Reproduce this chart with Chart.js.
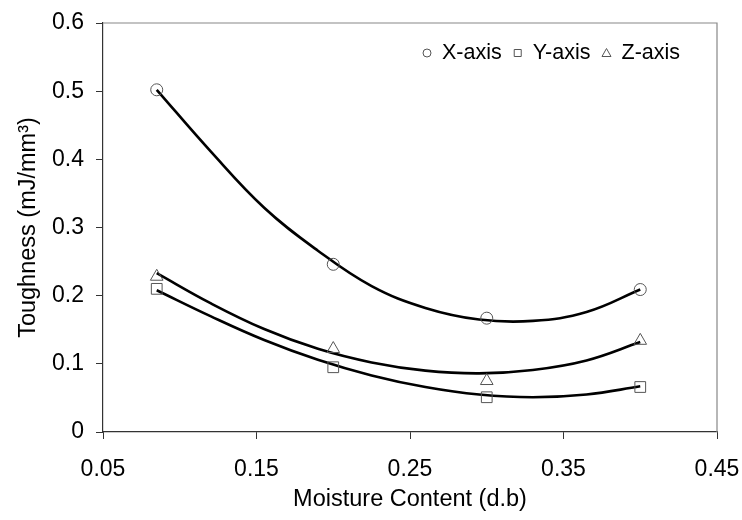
<!DOCTYPE html>
<html>
<head>
<meta charset="utf-8">
<script src="https://cdn.jsdelivr.net/npm/chart.js@4.4.1/dist/chart.umd.min.js"></script>
<style>
  html, body { margin: 0; padding: 0; background: #fff; }
  #wrap { width: 742px; height: 520px; }
</style>
</head>
<body>
<div id="wrap"><canvas id="toughness" width="742" height="520"></canvas></div>
<script>
// measured points
const moisture = [0.085, 0.2, 0.3, 0.4];
const xAxisVals = [0.502, 0.246, 0.167, 0.209];
const yAxisVals = [0.210, 0.095, 0.051, 0.066];
const zAxisVals = [0.228, 0.122, 0.075, 0.134];

// trendlines
const trendX = [0.085, 0.12, 0.155, 0.19, 0.225, 0.26, 0.295, 0.33, 0.365, 0.40];
const trendXAxis = [0.502, 0.412, 0.329, 0.266, 0.214, 0.182, 0.165, 0.163, 0.176, 0.209];
const trendYAxis = [0.208, 0.170, 0.135, 0.106, 0.083, 0.066, 0.055, 0.051, 0.055, 0.067];
const trendZAxis = [0.233, 0.189, 0.151, 0.122, 0.102, 0.090, 0.086, 0.091, 0.105, 0.132];

const seriesLabels = ['X-axis', 'Y-axis', 'Z-axis'];
const xTicks = [0.05, 0.15, 0.25, 0.35, 0.45];
const xTickLabels = ['0.05', '0.15', '0.25', '0.35', '0.45'];
const yTicks = [0, 0.1, 0.2, 0.3, 0.4, 0.5, 0.6];
const yTickLabels = ['0', '0.1', '0.2', '0.3', '0.4', '0.5', '0.6'];

const FONT = 'Liberation Sans, Arial, sans-serif';
const markColor = '#555';

function pts(xs, ys) { return xs.map((x, i) => ({x: x, y: ys[i]})); }

function markerSet(label, vals, style, r) {
  return {
    label: label, data: pts(moisture, vals), showLine: false,
    pointStyle: style, pointRadius: r, pointHoverRadius: r,
    pointBorderColor: markColor, pointBackgroundColor: 'rgba(0,0,0,0)', pointBorderWidth: 1
  };
}
function trendSet(vals) {
  return {
    label: '', data: pts(trendX, vals), showLine: true, pointRadius: 0,
    borderColor: '#000', borderWidth: 2.6, tension: 0.4, fill: false
  };
}

// frame on top and right, legend inside the plot
const framePlugin = {
  id: 'frame',
  beforeDatasetsDraw(chart) {
    const {ctx, chartArea: a} = chart;
    ctx.save();
    ctx.strokeStyle = '#888';
    ctx.lineWidth = 1.2;
    ctx.beginPath();
    ctx.moveTo(a.left, a.top);
    ctx.lineTo(a.right, a.top);
    ctx.lineTo(a.right, a.bottom);
    ctx.stroke();
    ctx.restore();
  }
};

const legendPlugin = {
  id: 'innerLegend',
  afterDraw(chart) {
    const ctx = chart.ctx;
    const y = 53;
    let cx = 423;
    const shapes = ['circle', 'rect', 'triangle'];
    ctx.save();
    ctx.font = '21.5px ' + FONT;
    ctx.textBaseline = 'middle';
    ctx.fillStyle = '#000';
    seriesLabels.forEach((lab, i) => {
      ctx.strokeStyle = markColor;
      ctx.lineWidth = 1;
      const c = cx + 4;
      ctx.beginPath();
      if (shapes[i] === 'circle') {
        ctx.arc(c, y, 4, 0, Math.PI * 2);
      } else if (shapes[i] === 'rect') {
        ctx.rect(c - 3.5, y - 3.5, 7, 7);
      } else {
        ctx.moveTo(c, y - 4.5);
        ctx.lineTo(c + 4.5, y + 3.5);
        ctx.lineTo(c - 4.5, y + 3.5);
        ctx.closePath();
      }
      ctx.stroke();
      ctx.fillText(lab, cx + 19, y);
      cx = cx + 19 + ctx.measureText(lab).width + 12;
    });
    ctx.restore();
  }
};

new Chart(document.getElementById('toughness'), {
  type: 'scatter',
  data: {
    datasets: [
      markerSet(seriesLabels[0], xAxisVals, 'circle', 6),
      markerSet(seriesLabels[1], yAxisVals, 'rect', 7.6),
      markerSet(seriesLabels[2], zAxisVals, 'triangle', 7.3),
      trendSet(trendXAxis),
      trendSet(trendYAxis),
      trendSet(trendZAxis)
    ]
  },
  options: {
    responsive: false,
    animation: false,
    devicePixelRatio: 1,
    layout: { padding: { top: 23, right: 25, left: 0, bottom: 0 } },
    plugins: { legend: { display: false }, tooltip: { enabled: false } },
    scales: {
      x: {
        type: 'linear', min: 0.05, max: 0.45,
        afterBuildTicks: s => { s.ticks = xTicks.map(v => ({value: v})); },
        afterFit: s => { s.height = 88; s.paddingLeft = 0; s.paddingRight = 0; },
        ticks: {
          color: '#000', font: { family: FONT, size: 23 }, padding: 17,
          callback: (v, i) => xTickLabels[i]
        },
        grid: { drawOnChartArea: false, tickLength: 7, tickColor: '#333' },
        border: { color: '#333', width: 1.2 },
        title: {
          display: true, text: 'Moisture Content (d.b)', color: '#000',
          font: { family: FONT, size: 23.5 }, padding: { top: 0, bottom: 6 }
        }
      },
      y: {
        type: 'linear', min: 0, max: 0.6,
        afterBuildTicks: s => { s.ticks = yTicks.map(v => ({value: v})); },
        afterFit: s => { s.width = 103; s.paddingTop = 0; s.paddingBottom = 0; },
        ticks: {
          color: '#000', font: { family: FONT, size: 23 }, padding: 12,
          callback: (v, i) => yTickLabels[i]
        },
        grid: { drawOnChartArea: false, tickLength: 7, tickColor: '#333' },
        border: { color: '#333', width: 1.2 },
        title: {
          display: true, text: 'Toughness (mJ/mm³)', color: '#000',
          font: { family: FONT, size: 23.5 }, padding: { top: 14, bottom: 0 }
        }
      }
    }
  },
  plugins: [framePlugin, legendPlugin]
});
</script>
</body>
</html>
